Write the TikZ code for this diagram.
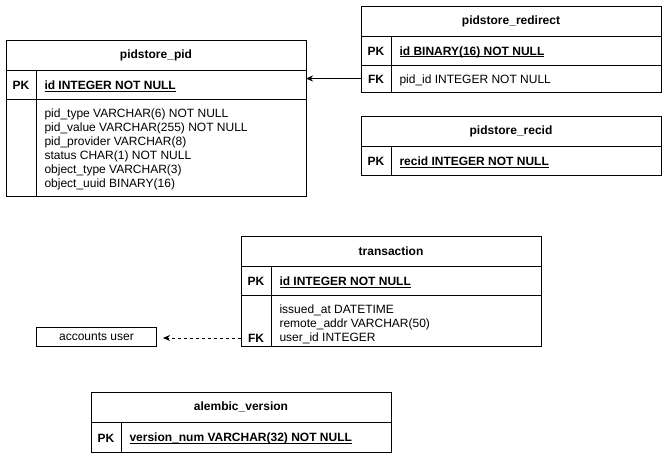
\documentclass[tikz,border=0pt]{standalone}
\usepackage{fontspec}
\setmainfont{Liberation Sans}
\usetikzlibrary{arrows.meta}
\newcommand{\myul}[1]{\setbox0\hbox{#1}\rlap{\rule[-2.2pt]{\wd0}{0.9pt}}\box0}
\begin{document}
\begin{tikzpicture}[x=1pt,y=-1pt,line width=1pt,
  every node/.style={font=\fontsize{12}{14}\selectfont},
  cell/.style={draw, anchor=north west, minimum width=300pt, inner sep=0pt, outer sep=0pt},
  hdr/.style={cell, minimum height=30pt, font=\fontsize{12}{14}\selectfont\bfseries},
  keylbl/.style={inner sep=0pt, anchor=center, yshift=-1pt, font=\fontsize{12}{14}\selectfont\bfseries},
  field/.style={inner sep=0pt, anchor=west, align=left, yshift=-1.5pt},
  pkfield/.style={field, font=\fontsize{12}{14}\selectfont\bfseries},
  conn/.style={line width=0.9pt, -{Stealth[length=7pt,width=6pt]}}
]
\useasboundingbox (0,0) rectangle (668,458);

% pidstore_pid
\node[hdr] (pidH) at (6,40) {pidstore\_pid};
\node[cell, minimum height=29pt] (pidPK) at (6,70) {};
\node[cell, minimum height=97pt] (pidB) at (6,99) {};
\draw ([xshift=30pt]pidPK.north west) -- ([xshift=30pt]pidB.south west);
\node[keylbl] (pidPKl) at (21,84.5) {PK};
\node[pkfield] (pidPKf) at (44,84.5) {\myul{id INTEGER NOT NULL}};
\node[field] (pidBf) at (44,147.5) {pid\_type VARCHAR(6) NOT NULL\\pid\_value VARCHAR(255) NOT NULL\\pid\_provider VARCHAR(8)\\status CHAR(1) NOT NULL\\object\_type VARCHAR(3)\\object\_uuid BINARY(16)};

% pidstore_redirect
\node[hdr] (rdH) at (361,6) {pidstore\_redirect};
\node[cell, minimum height=29pt] (rdPK) at (361,36) {};
\node[cell, minimum height=27pt] (rdFK) at (361,65) {};
\draw ([xshift=30pt]rdPK.north west) -- ([xshift=30pt]rdFK.south west);
\node[keylbl] (rdPKl) at (376,50.5) {PK};
\node[pkfield] (rdPKf) at (399,50.5) {\myul{id BINARY(16) NOT NULL}};
\node[keylbl] (rdFKl) at (376,78.5) {FK};
\node[field] (rdFKf) at (399,78.5) {pid\_id INTEGER NOT NULL};

% pidstore_recid
\node[hdr] (rcH) at (361,116) {pidstore\_recid};
\node[cell, minimum height=29pt] (rcPK) at (361,146) {};
\draw ([xshift=30pt]rcPK.north west) -- ([xshift=30pt]rcPK.south west);
\node[keylbl] (rcPKl) at (376,160.5) {PK};
\node[pkfield] (rcPKf) at (399,160.5) {\myul{recid INTEGER NOT NULL}};

% transaction
\node[hdr] (txH) at (241,236) {transaction};
\node[cell, minimum height=29pt] (txPK) at (241,266) {};
\node[cell, minimum height=51pt] (txB) at (241,295) {};
\draw ([xshift=30pt]txPK.north west) -- ([xshift=30pt]txB.south west);
\node[keylbl] (txPKl) at (256,280.5) {PK};
\node[pkfield] (txPKf) at (279,280.5) {\myul{id INTEGER NOT NULL}};
\node[field] (txBf) at (279,323) {issued\_at DATETIME\\remote\_addr VARCHAR(50)\\user\_id INTEGER};
\node[keylbl] (txFKl) at (256,337) {FK};

% accounts user
\node[draw, anchor=north west, minimum width=120pt, minimum height=19pt, inner sep=0pt] (acc) at (36,327) {accounts user};

% alembic_version
\node[hdr] (alH) at (91,392) {alembic\_version};
\node[cell, minimum height=30pt] (alPK) at (91,422) {};
\draw ([xshift=30pt]alPK.north west) -- ([xshift=30pt]alPK.south west);
\node[keylbl] (alPKl) at (106,437) {PK};
\node[pkfield] (alPKf) at (129,437) {\myul{version\_num VARCHAR(32) NOT NULL}};

% connectors
\draw[conn] (rdFK.west) -- (rdFK.west -| pidPK.east);
\draw[conn, dashed, dash pattern=on 3pt off 3pt, shorten >=6pt] (txB.west |- txFKl) -- (acc.east |- txFKl);
\end{tikzpicture}
\end{document}
